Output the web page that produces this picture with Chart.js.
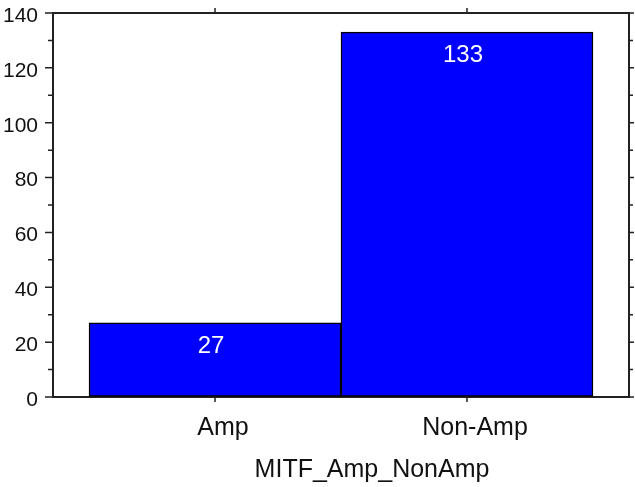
<!DOCTYPE html>
<html>
<head>
<meta charset="utf-8">
<script src="https://cdn.jsdelivr.net/npm/chart.js@4.4.1/dist/chart.umd.min.js"></script>
<style>
  html, body { margin: 0; padding: 0; background: #ffffff; }
  #wrap { width: 635px; height: 487px; }
</style>
</head>
<body>
<div id="wrap"><canvas id="c" width="635" height="487"></canvas></div>
<script>
const categories = ['Amp', 'Non-Amp'];
const counts = [27, 133];
const yTickValues = [0, 20, 40, 60, 80, 100, 120, 140];
const xAxisTitle = 'MITF_Amp_NonAmp';

const FONT = '"Liberation Sans", Arial, sans-serif';
const AXIS = '#222222';
const X_MIN = -0.643, X_MAX = 1.643, Y_MIN = 0, Y_MAX = 140;

function fit(size, prop) { return function (s) { s[prop] = size; }; }

const tickPlugin = {
  id: 'ticksAndLabels',
  afterDraw(chart) {
    const ctx = chart.ctx;
    const ca = chart.chartArea;
    const y = chart.scales.y, x = chart.scales.x;
    ctx.save();
    ctx.strokeStyle = AXIS;
    ctx.lineWidth = 1.5;
    ctx.beginPath();
    for (let v = Y_MIN; v <= Y_MAX; v += 10) {
      const py = y.getPixelForValue(v);
      const major = v % 20 === 0;
      ctx.moveTo(ca.left - (major ? 8 : 5), py);
      ctx.lineTo(ca.left, py);
      ctx.moveTo(ca.right, py);
      ctx.lineTo(ca.right + (major ? 5 : 4), py);
    }
    categories.forEach((c, i) => {
      const px = x.getPixelForValue(i);
      ctx.moveTo(px, ca.bottom);
      ctx.lineTo(px, ca.bottom + 5);
      ctx.moveTo(px, ca.top);
      ctx.lineTo(px, ca.top - 5);
    });
    ctx.stroke();

    // value labels inside bars
    ctx.fillStyle = '#ffffff';
    ctx.font = '24px ' + FONT;
    ctx.textAlign = 'center';
    ctx.textBaseline = 'middle';
    const meta = chart.getDatasetMeta(0);
    meta.data.forEach((bar, i) => {
      ctx.fillText(String(counts[i]), bar.x - 4, bar.y + 23);
    });

    // axis title
    ctx.fillStyle = '#111111';
    ctx.font = '25px ' + FONT;
    ctx.textBaseline = 'alphabetic';
    ctx.fillText(xAxisTitle, (ca.left + ca.right) / 2 + 31, 477);
    ctx.restore();
  }
};

new Chart(document.getElementById('c'), {
  type: 'bar',
  data: {
    datasets: [{
      data: counts.map((v, i) => ({ x: i, y: v })),
      backgroundColor: '#0000ff',
      borderColor: '#000000',
      borderWidth: 1.5,
      borderSkipped: false,
      categoryPercentage: 1,
      barPercentage: 1
    }]
  },
  options: {
    responsive: false,
    animation: false,
    devicePixelRatio: 1,
    layout: { padding: 0 },
    plugins: { legend: { display: false }, tooltip: { enabled: false }, title: { display: false } },
    scales: {
      x: {
        type: 'linear', position: 'bottom', min: X_MIN, max: X_MAX, offset: false,
        afterFit: fit(90, 'height'),
        afterBuildTicks(s) { s.ticks = categories.map((c, i) => ({ value: i })); },
        grid: { display: false, drawTicks: false, offset: false },
        border: { display: true, color: AXIS, width: 2 },
        ticks: {
          color: '#111111', font: { family: FONT, size: 25 }, padding: 16, labelOffset: 8,
          maxRotation: 0, autoSkip: false,
          callback: (v) => categories[v] !== undefined ? categories[v] : ''
        }
      },
      x2: {
        type: 'linear', position: 'top', min: X_MIN, max: X_MAX, offset: false,
        afterFit: fit(13, 'height'),
        grid: { display: false, drawTicks: false, offset: false },
        border: { display: true, color: AXIS, width: 2 },
        ticks: { display: false }
      },
      y: {
        type: 'linear', position: 'left', min: Y_MIN, max: Y_MAX,
        afterFit: fit(53, 'width'),
        afterBuildTicks(s) { s.ticks = yTickValues.map(v => ({ value: v })); },
        grid: { display: true, drawOnChartArea: false, drawTicks: true, tickLength: 15, tickColor: 'rgba(0,0,0,0)' },
        border: { display: true, color: AXIS, width: 2 },
        ticks: { color: '#111111', font: { family: FONT, size: 21 }, padding: 0, labelOffset: 3 }
      },
      y2: {
        type: 'linear', position: 'right', min: Y_MIN, max: Y_MAX,
        afterFit: fit(6, 'width'),
        grid: { display: false, drawTicks: false },
        border: { display: true, color: AXIS, width: 2 },
        ticks: { display: false }
      }
    }
  },
  plugins: [tickPlugin]
});
</script>
</body>
</html>
